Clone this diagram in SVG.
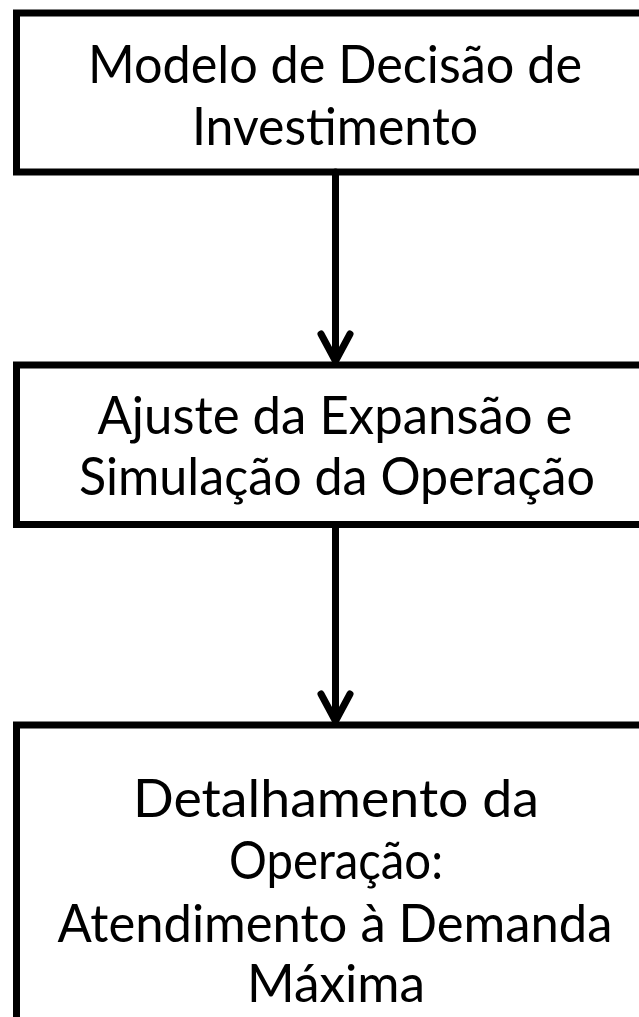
<svg xmlns="http://www.w3.org/2000/svg" width="639" height="1017" viewBox="0 0 639 1017">
<style>
.box{fill:#ffffff;stroke:#000000;stroke-width:7;stroke-linejoin:miter}
.lbl{font-family:Lato,"Liberation Sans",sans-serif;font-size:52px;fill:#000000;text-anchor:middle}
.con{fill:none;stroke:#000000;stroke-width:7;stroke-linecap:round;stroke-linejoin:round}
</style>
<rect x="0" y="0" width="639" height="1017" fill="#ffffff"/>
<g id="node-investimento">
<rect class="box" x="16.5" y="13" width="640" height="159"/>
<text class="lbl" x="335" y="83" textLength="494" lengthAdjust="spacingAndGlyphs">Modelo de Decisão de</text>
<text class="lbl" x="335" y="145" textLength="286" lengthAdjust="spacingAndGlyphs">Investimento</text>
</g>
<g id="node-ajuste">
<rect class="box" x="16.5" y="365" width="640" height="159.5"/>
<text class="lbl" x="335" y="434" textLength="475" lengthAdjust="spacingAndGlyphs">Ajuste da Expansão e</text>
<text class="lbl" x="337" y="495" textLength="516" lengthAdjust="spacingAndGlyphs">Simulação da Operação</text>
</g>
<g id="node-detalhamento">
<rect class="box" x="16.5" y="725" width="640" height="320"/>
<text class="lbl" x="336" y="817" textLength="406" lengthAdjust="spacingAndGlyphs">Detalhamento da</text>
<text class="lbl" x="336" y="879" textLength="214" lengthAdjust="spacingAndGlyphs">Operação:</text>
<text class="lbl" x="335" y="942" textLength="555" lengthAdjust="spacingAndGlyphs">Atendimento à Demanda</text>
<text class="lbl" x="336" y="1002" textLength="178" lengthAdjust="spacingAndGlyphs">Máxima</text>
</g>
<g id="connectors">
<line class="con" x1="335.5" y1="172" x2="335.5" y2="362"/>
<polyline class="con" points="321,334 335.5,361 350,334"/>
<line class="con" x1="335.5" y1="524.5" x2="335.5" y2="722"/>
<polyline class="con" points="321,694 335.5,721 350,694"/>
</g>
</svg>
